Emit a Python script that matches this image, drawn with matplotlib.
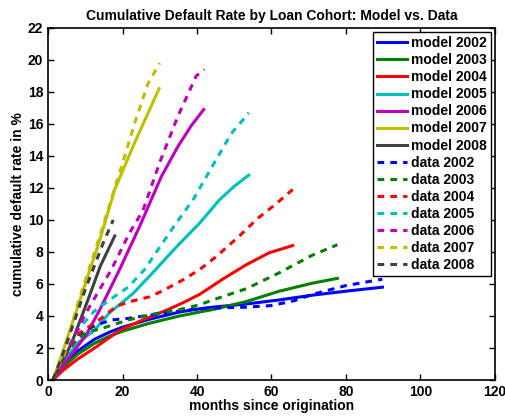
import matplotlib
matplotlib.use('Agg')
import matplotlib.pyplot as plt

plt.rcParams['font.family'] = ['Liberation Sans', 'DejaVu Sans']
plt.rcParams['font.weight'] = 'bold'

years = ['2002', '2003', '2004', '2005', '2006', '2007', '2008']
colors = ['#0000ff', '#008000', '#ff0000', '#00bfbf', '#bf00bf', '#bfbf00', '#404040']

# model curves (months, cumulative default rate %)
model_m = {
    '2002': [1.3, 4, 7.9, 12.5, 16.6, 20, 27.3, 35.3, 40.7, 44.2, 53.2, 62, 71, 80, 89.8],
    '2003': [1.3, 4, 7.9, 12.5, 16.6, 20, 27.3, 35.3, 40.7, 44.2, 53.2, 62.1, 71, 77.7],
    '2004': [1.3, 4, 7.9, 12.5, 19.2, 25.9, 31.7, 36, 40.7, 46.9, 53.2, 59.4, 65.7],
    '2005': [1.3, 4, 7.9, 12.4, 16.5, 22.8, 28.1, 34.4, 40.7, 46, 50, 53.9],
    '2006': [1.3, 4, 6.6, 10.2, 13.9, 19.2, 24.6, 30.4, 34.9, 38.5, 41.8],
    '2007': [1.3, 4, 8, 13.9, 17.9, 23.2, 26.5, 29.8],
    '2008': [1.3, 3.5, 6.3, 10.7, 14, 17.9],
}
model_v = {
    '2002': [0, 0.9, 1.8, 2.55, 3.0, 3.3, 3.8, 4.25, 4.45, 4.55, 4.75, 5.0, 5.3, 5.55, 5.8],
    '2003': [0, 0.8, 1.6, 2.3, 2.75, 3.05, 3.55, 4.0, 4.25, 4.4, 4.9, 5.55, 6.05, 6.35],
    '2004': [0, 0.6, 1.3, 2.0, 3.1, 3.8, 4.35, 4.8, 5.35, 6.3, 7.2, 7.95, 8.4],
    '2005': [0, 1.1, 2.3, 3.1, 4.2, 5.4, 6.7, 8.3, 9.8, 11.25, 12.1, 12.8],
    '2006': [0, 0.9, 1.7, 2.8, 4.4, 6.9, 9.6, 12.7, 14.6, 15.9, 16.9],
    '2007': [0, 1.8, 4.6, 8.75, 11.9, 14.8, 16.5, 18.2],
    '2008': [0, 1.0, 2.3, 5.0, 7.1, 9.0],
}

# data curves
data_m = {
    '2002': [1.3, 4, 8, 12.5, 17, 21.5, 28.6, 35, 40, 44.2, 53.2, 60, 66, 71, 80, 89.8],
    '2003': [1.3, 4, 7.5, 10.7, 14.8, 21.5, 27.8, 35.3, 40.7, 44.2, 53.2, 62.1, 71, 77.7],
    '2004': [1.3, 4, 7.6, 13.7, 18.3, 22, 27.3, 31, 36.2, 40.7, 45.1, 51.4, 56.3, 61.2, 65.7],
    '2005': [1.3, 4, 7.9, 12.4, 16.5, 21.5, 25.9, 29.1, 34.4, 38.9, 42.5, 45.1, 49.2, 52.7,
             53.9],
    '2006': [1.3, 3.5, 6.6, 10.2, 14.7, 17, 21.9, 25.5, 30, 34.9, 39.8, 42],
    '2007': [1.3, 4.5, 8, 13.9, 20.6, 23.2, 26.8, 30],
    '2008': [1.3, 3, 5.6, 9.9, 14.7, 17.5],
}
data_v = {
    '2002': [0, 1.5, 2.8, 3.4, 3.75, 3.85, 4.1, 4.3, 4.45, 4.5, 4.55, 4.65, 4.95, 5.35, 5.9, 6.3],
    '2003': [0, 1.3, 2.5, 3.0, 3.25, 3.75, 4.1, 4.4, 4.7, 5.0, 5.7, 6.7, 7.8, 8.45],
    '2004': [0, 1.4, 2.8, 3.75, 4.6, 4.9, 5.2, 5.6, 6.25, 6.9, 7.7, 9.0, 10.1, 11.0, 11.9],
    '2005': [0, 1.4, 3.1, 4.3, 5.0, 5.8, 6.9, 8.0, 9.8, 11.25, 12.7, 13.75, 15.4, 16.35, 16.7],
    '2006': [0, 1.1, 2.5, 4.2, 6.0, 6.9, 9.2, 10.6, 13.6, 16.5, 19.0, 19.4],
    '2007': [0, 1.7, 4.8, 9.0, 14.0, 16.0, 18.5, 19.8],
    '2008': [0, 1.0, 2.7, 5.6, 8.5, 10.0],
}

fig = plt.figure(figsize=(5.06, 4.16), dpi=100)
ax = fig.add_axes([0.095, 0.0865, 0.883, 0.8465])

for y, c in zip(years, colors):
    ax.plot(model_m[y], model_v[y], color=c, lw=2.2, label='model ' + y)
for y, c in zip(years, colors):
    ax.plot(data_m[y], data_v[y], color=c, lw=2.2, ls=(0, (2.2, 2.0)), label='data ' + y)

ax.set_xlim(0, 120)
ax.set_ylim(0, 22)
ax.set_xticks(range(0, 121, 20))
ax.set_yticks(range(0, 23, 2))
ax.tick_params(direction='in', top=True, right=True, labelsize=10, width=1, length=4)
for s in ax.spines.values():
    s.set_linewidth(1.2)
ax.set_xlabel('months since origination', fontsize=10, fontweight='bold', labelpad=0)
ax.set_ylabel('cumulative default rate in %', fontsize=10, fontweight='bold', labelpad=2)
ax.set_title('Cumulative Default Rate by Loan Cohort: Model vs. Data', fontsize=10,
             fontweight='bold', pad=6)

leg = ax.legend(loc='upper right', fontsize=10, handlelength=2.2, handletextpad=0.25,
                labelspacing=0.22, borderpad=0.3, borderaxespad=0.3, fancybox=False,
                framealpha=1, edgecolor='black')
leg.get_frame().set_linewidth(1.0)

fig.savefig('out.png', dpi=100)
